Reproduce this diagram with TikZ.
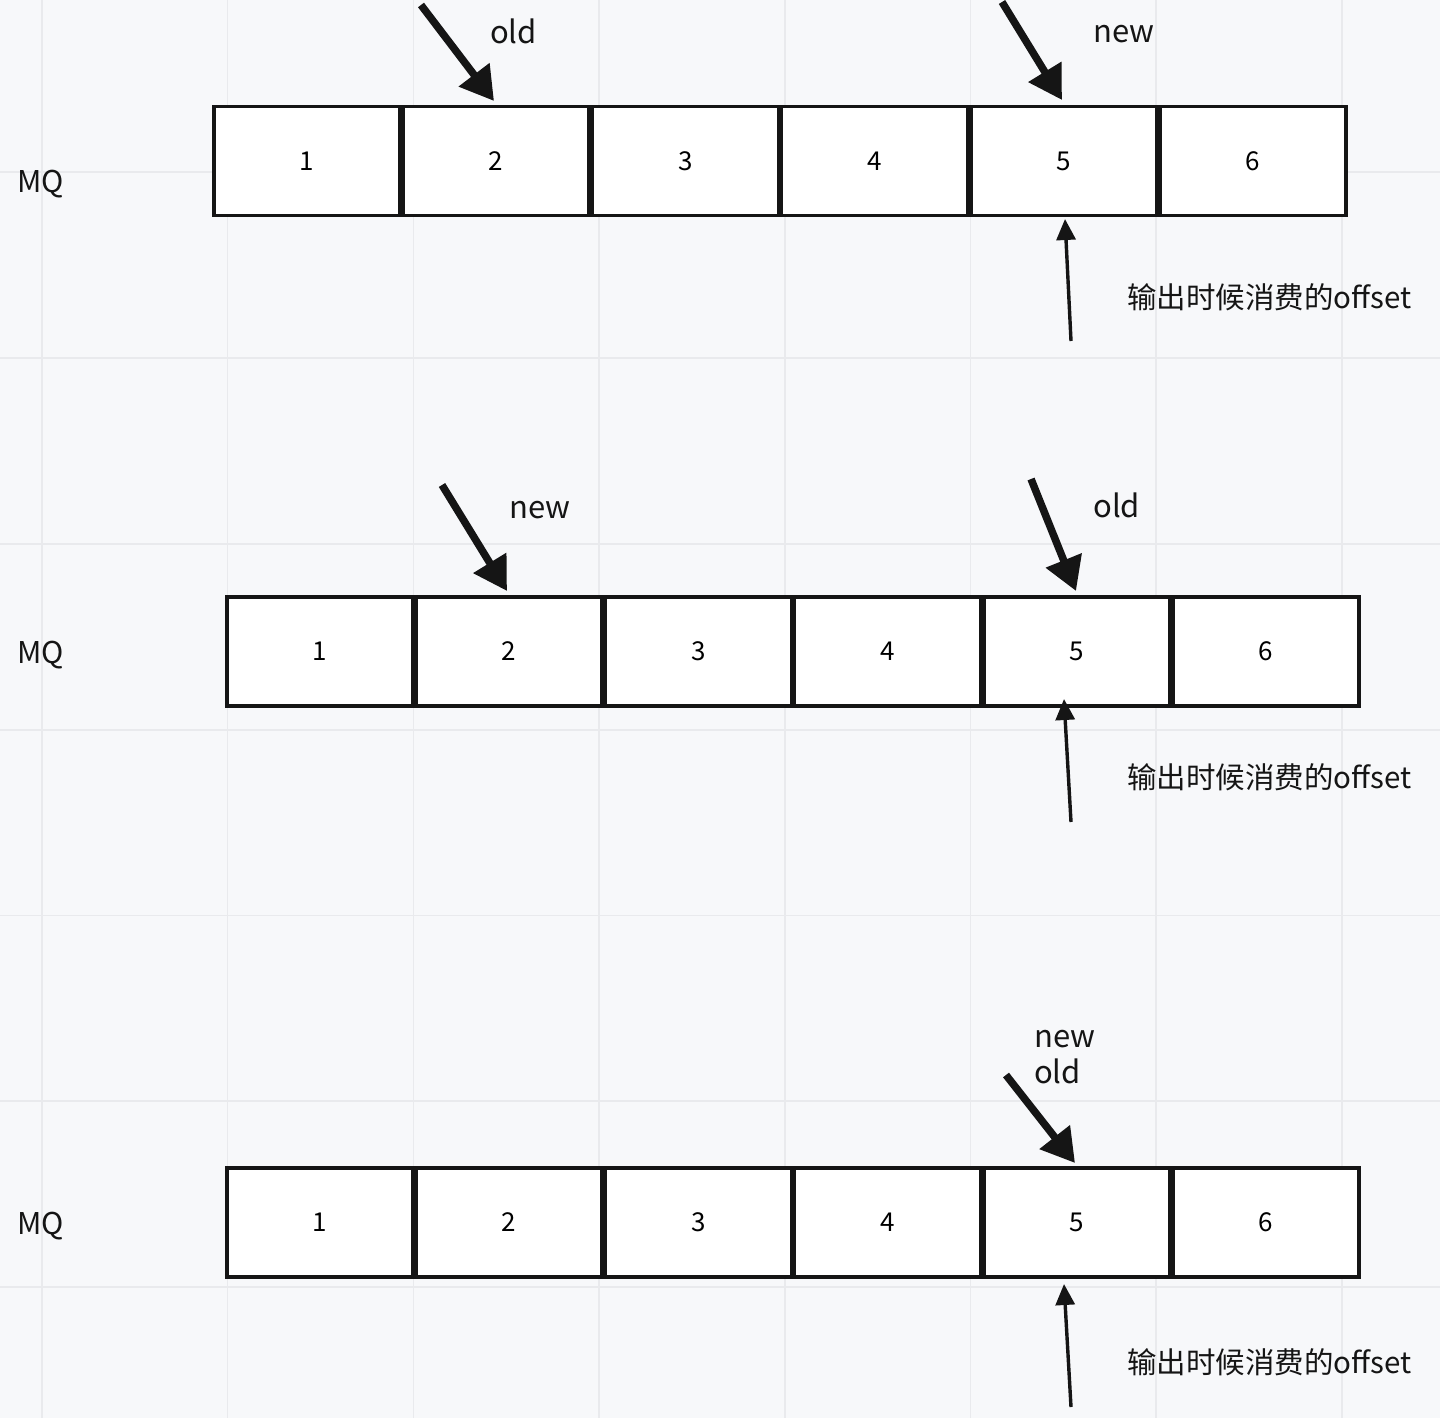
\documentclass[tikz,border=0pt]{standalone}
\usepackage{fontspec}
\setmainfont{Noto Sans CJK SC}
\usetikzlibrary{arrows.meta}
\definecolor{bgc}{HTML}{F7F8FA}
\definecolor{gridc}{HTML}{E9EAED}
\definecolor{ink}{HTML}{151515}
\begin{document}
\begin{tikzpicture}[x=1pt,y=-1pt,
  cell/.style={draw=ink,line width=3.4pt,fill=white,minimum width=185.8pt,minimum height=109pt,inner sep=0pt,font=\fontsize{26}{26}\selectfont},
  lbl/.style={inner sep=0pt,anchor=base west,font=\fontsize{31}{31}\selectfont,text=ink},
  mq/.style={inner sep=0pt,anchor=base west,font=\fontsize{30}{30}\selectfont,text=ink},
  cn/.style={inner sep=0pt,anchor=base west,font=\fontsize{29.5}{29.5}\selectfont,text=ink},
  bigarrow/.style={draw=ink,line width=7.5pt,-{Triangle[length=33pt,width=37pt]}},
  uparrow/.style={draw=ink,line width=3.4pt,-{Triangle[length=21pt,width=19pt]}}]
\useasboundingbox (0,0) rectangle (1440,1418);
\fill[bgc] (0,0) rectangle (1440,1418);
% grid
\foreach \gx in {42,227.7,413.4,599.1,784.8,970.5,1156.2,1341.9}
  \draw[gridc,line width=1.5pt] (\gx,0) -- (\gx,1418);
\foreach \gy in {172,358,544,730,915.5,1101,1287}
  \draw[gridc,line width=1.5pt] (0,\gy) -- (1440,\gy);

% ---- row 1 ----
\node[mq] (mq1) at (17,192) {MQ};
\foreach \i [count=\k from 0] in {1,...,6}
  \node[cell] (a\i) at (307+189.2*\k,161) {\i};
\node[lbl] (old1) at (490,44) {old};
\node[lbl] (new1) at (1093,43) {new};
\coordinate (a2s) at (421,5);
\coordinate (a2t) at (494,101);
\coordinate (a5s) at (1002,2);
\coordinate (a5t) at (1062,100);
\draw[bigarrow] (a2s) -- (a2t);
\draw[bigarrow] (a5s) -- (a5t);
\coordinate (u1s) at (1071,341);
\coordinate (u1t) at (1065,219);
\draw[uparrow] (u1s) -- (u1t);
\node[cn] (c1) at (1127,308) {输出时候消费的offset};

% ---- row 2 ----
\node[mq] (mq2) at (17,663) {MQ};
\foreach \i [count=\k from 0] in {1,...,6}
  \node[cell] (b\i) at (320+189.2*\k,651.5) {\i};
\node[lbl] (new2) at (509,518) {new};
\node[lbl] (old2) at (1093,517) {old};
\coordinate (b2s) at (442,485);
\coordinate (b2t) at (507,591);
\coordinate (b5s) at (1031,479);
\coordinate (b5t) at (1076,591);
\draw[bigarrow] (b2s) -- (b2t);
\draw[bigarrow] (b5s) -- (b5t);
\coordinate (u2s) at (1071,822);
\coordinate (u2t) at (1064,699);
\draw[uparrow] (u2s) -- (u2t);
\node[cn] (c2) at (1127,788) {输出时候消费的offset};

% ---- row 3 ----
\node[mq] (mq3) at (17,1234) {MQ};
\foreach \i [count=\k from 0] in {1,...,6}
  \node[cell] (d\i) at (320+189.2*\k,1222.5) {\i};
\node[lbl] (new3) at (1034,1047) {new};
\node[lbl] (old3) at (1034,1083) {old};
\coordinate (d5s) at (1006,1075);
\coordinate (d5t) at (1075,1163);
\draw[bigarrow] (d5s) -- (d5t);
\coordinate (u3s) at (1071,1407);
\coordinate (u3t) at (1064,1284);
\draw[uparrow] (u3s) -- (u3t);
\node[cn] (c3) at (1127,1373) {输出时候消费的offset};
\end{tikzpicture}
\end{document}
